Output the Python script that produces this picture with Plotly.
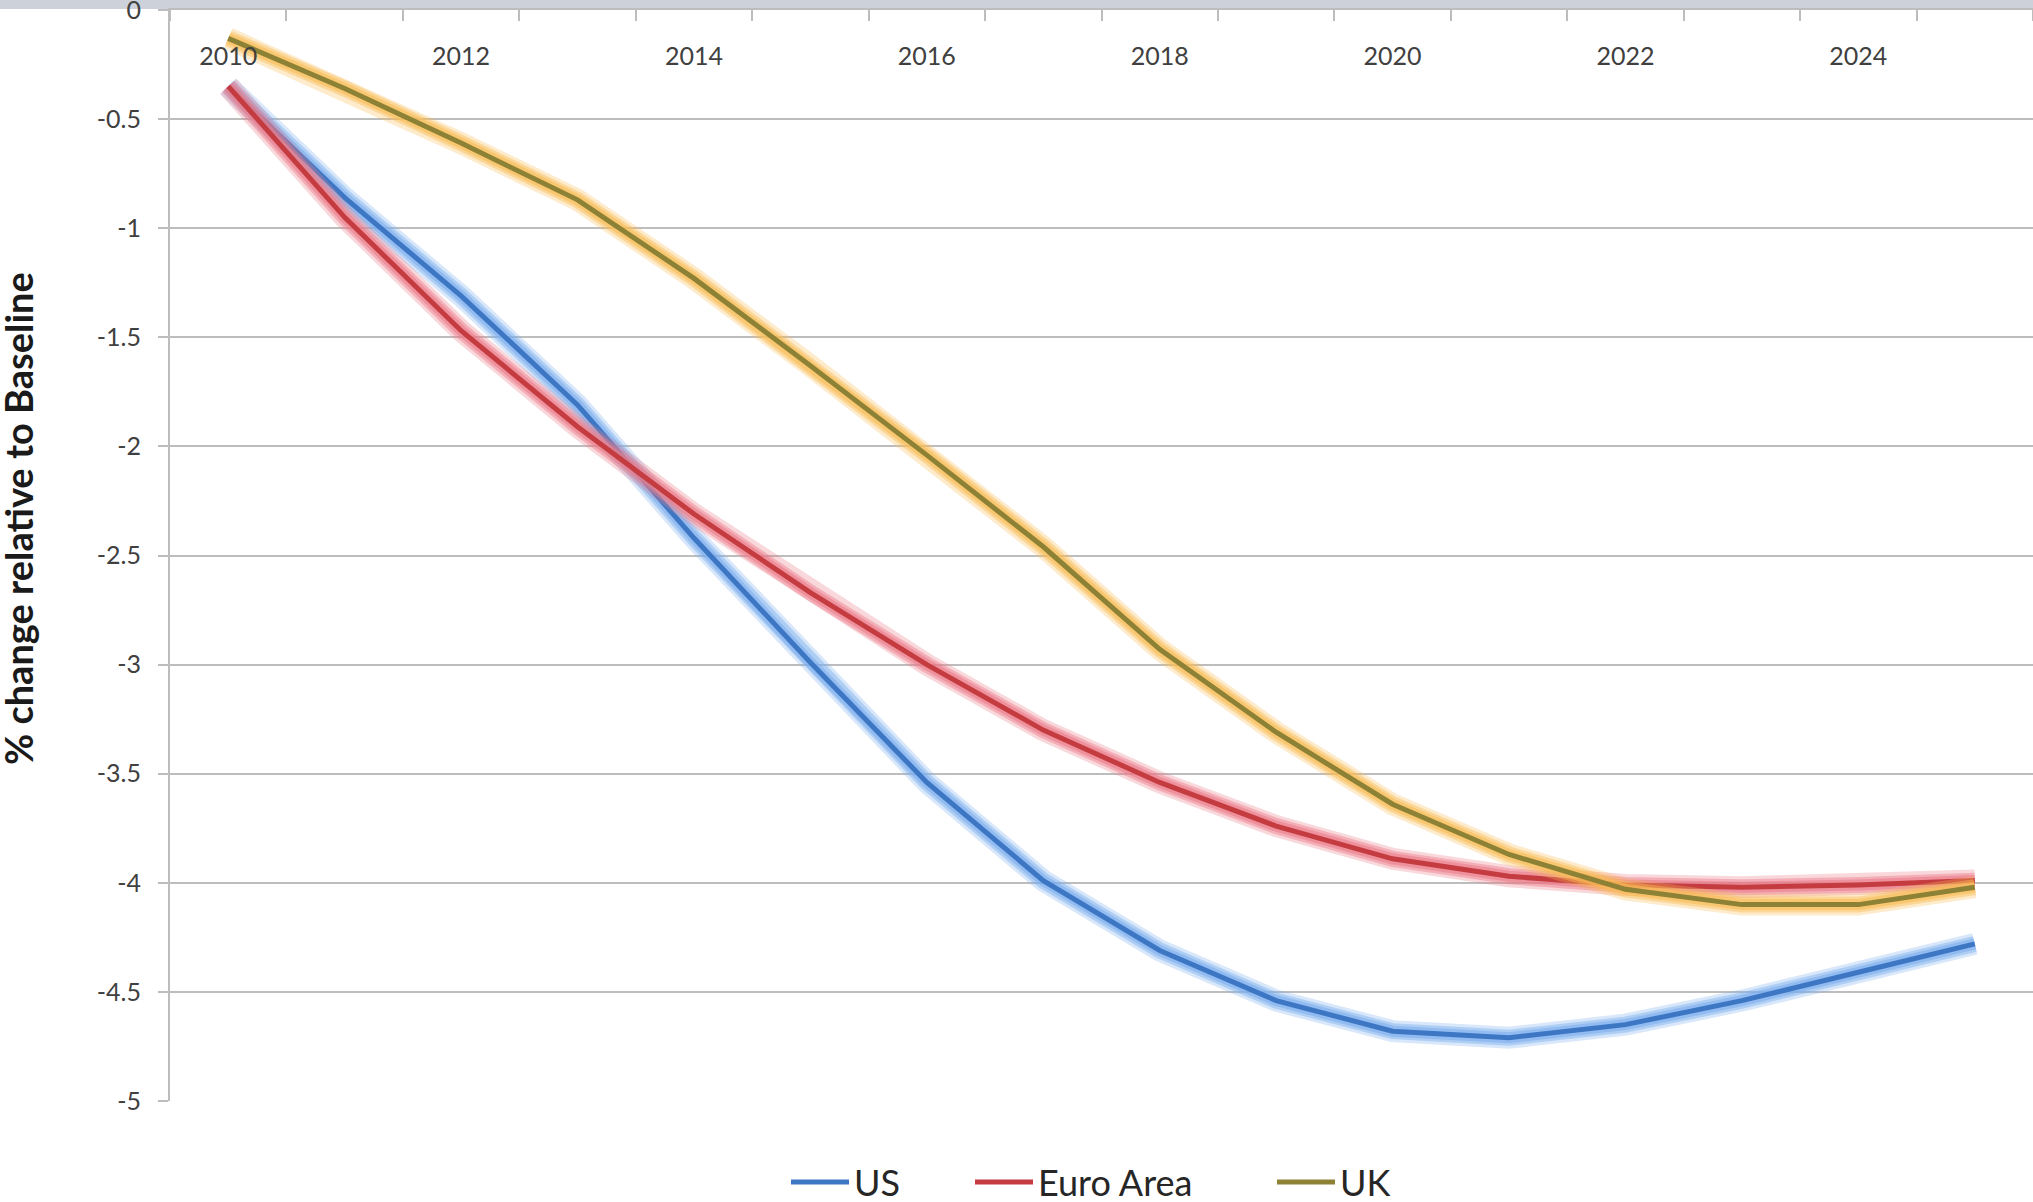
import plotly.graph_objects as go

# Simulated GDP paths, % change relative to baseline
years = list(range(2010, 2026))
us = [-0.35, -0.86, -1.31, -1.81, -2.42, -2.99, -3.54, -3.99, -4.31, -4.54,
      -4.68, -4.71, -4.65, -4.54, -4.41, -4.28]
euro_area = [-0.35, -0.95, -1.47, -1.91, -2.31, -2.67, -3.00, -3.30, -3.54, -3.74,
             -3.89, -3.97, -4.01, -4.02, -4.01, -3.99]
uk = [-0.13, -0.36, -0.61, -0.87, -1.23, -1.63, -2.04, -2.46, -2.93, -3.31,
      -3.64, -3.87, -4.03, -4.10, -4.10, -4.02]

y_tick_values = [0, -0.5, -1, -1.5, -2, -2.5, -3, -3.5, -4, -4.5, -5]
y_tick_labels = ["0", "-0.5", "-1", "-1.5", "-2", "-2.5", "-3", "-3.5", "-4", "-4.5", "-5"]

series = [
    ("US", us, "#3d77c4", (125, 175, 238), "legend"),
    ("Euro Area", euro_area, "#c43b40", (235, 125, 138), "legend2"),
    ("UK", uk, "#8c8135", (248, 188, 85), "legend3"),
]

W, H = 2033, 1202
ML, MR, MT, MB = 170, 0, 10, 101
plot_w = W - ML - MR
plot_h = H - MT - MB

GRID = "#bdbdbd"
TICK_FONT = dict(family="Lato, 'Open Sans', sans-serif", size=25, color="#404040")

fig = go.Figure()

for name, vals, color, glow, leg in series:
    # soft halo under each line
    for width, alpha in ((22, 0.30), (16, 0.45), (11, 0.60)):
        fig.add_trace(go.Scatter(
            x=years, y=vals, mode="lines",
            line=dict(color=f"rgba({glow[0]},{glow[1]},{glow[2]},{alpha})", width=width),
            hoverinfo="skip", showlegend=False,
        ))
    fig.add_trace(go.Scatter(
        x=years, y=vals, mode="lines", name=name,
        line=dict(color=color, width=5),
        legend=leg,
    ))

legend_common = dict(
    orientation="h", yanchor="middle", xanchor="left", y=(-81) / plot_h,
    font=dict(family="Lato, 'Open Sans', sans-serif", size=36, color="#262626"),
    bgcolor="rgba(0,0,0,0)", borderwidth=0, itemwidth=58,
)

fig.update_layout(
    width=W, height=H,
    margin=dict(l=ML, r=MR, t=MT, b=MB, autoexpand=False),
    paper_bgcolor="white", plot_bgcolor="white",
    legend=dict(x=(786 - ML) / plot_w, **legend_common),
    legend2=dict(x=(970 - ML) / plot_w, **legend_common),
    legend3=dict(x=(1272 - ML) / plot_w, **legend_common),
    xaxis=dict(
        type="linear", range=[2009.5, 2025.5], side="top",
        tickmode="linear", tick0=2010, dtick=2, ticks="",
        # year labels sit just under the top axis line
        ticklabelposition="outside", ticklabelstandoff=-67,
        ticklabeloverflow="allow",
        tickfont=TICK_FONT,
        showgrid=False, zeroline=False,
        showline=True, linecolor=GRID, linewidth=2,
        minor=dict(tick0=2009.5, dtick=1, ticks="inside", ticklen=11,
                   tickcolor=GRID, tickwidth=2, showgrid=False),
        fixedrange=True,
    ),
    yaxis=dict(
        range=[-5, 0], tickmode="array",
        tickvals=y_tick_values, ticktext=y_tick_labels,
        ticks="outside", ticklen=10, tickcolor=GRID, tickwidth=2,
        ticklabelstandoff=12, ticklabeloverflow="allow", tickfont=TICK_FONT,
        showgrid=True, gridcolor=GRID, gridwidth=2,
        zeroline=False, showline=True, linecolor=GRID, linewidth=2,
        fixedrange=True,
    ),
    shapes=[dict(
        type="rect", xref="paper", yref="paper",
        x0=-ML / plot_w - 0.01, x1=1.01, y0=1 + 1 / plot_h, y1=1 + 20 / plot_h,
        fillcolor="#cdd1da", line=dict(width=0), layer="below",
    )],
    annotations=[dict(
        text="<b>% change relative to Baseline</b>",
        xref="paper", yref="paper",
        x=(18 - ML) / plot_w, y=(MT + plot_h - 519) / plot_h,
        xanchor="center", yanchor="middle", textangle=-90, showarrow=False,
        font=dict(family="Lato, 'Open Sans', sans-serif", size=38, color="#1a1a1a"),
    )],
)

fig.write_html("out.html")
